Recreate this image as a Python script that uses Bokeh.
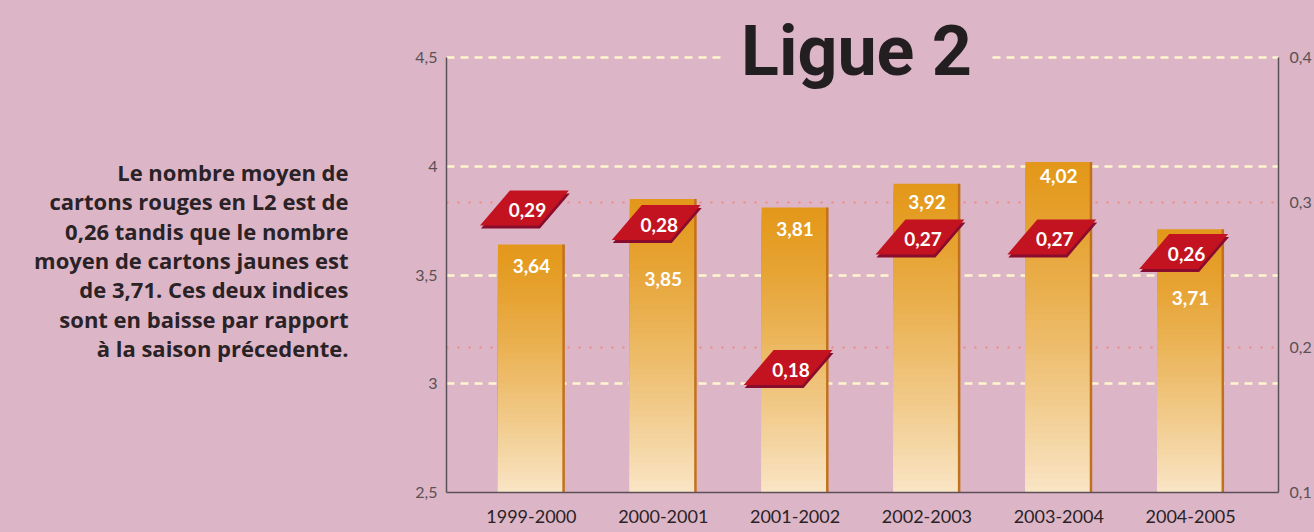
from bokeh.plotting import figure
from bokeh.layouts import row
from bokeh.models import (Range1d, LinearAxis, FixedTicker, Grid,
                          CustomJSTickFormatter)
from bokeh.core.properties import value
from bokeh.core.templates import FILE
from bokeh.embed import file_html
from bokeh.resources import INLINE

# ---------------- data ----------------
seasons = ["1999-2000", "2000-2001", "2001-2002", "2002-2003", "2003-2004", "2004-2005"]
jaunes = [3.64, 3.85, 3.81, 3.92, 4.02, 3.71]      # cartons jaunes (left axis)
rouges = [0.29, 0.28, 0.18, 0.27, 0.27, 0.26]      # cartons rouges (right axis)
left_ticks = [2.5, 3, 3.5, 4, 4.5]
right_ticks = [0.1, 0.2, 0.3, 0.4]
title_text = "Ligue 2"
paragraph = [
    "Le nombre moyen de",
    "cartons rouges en L2 est de",
    "0,26 tandis que le nombre",
    "moyen de cartons jaunes est",
    "de 3,71. Ces deux indices",
    "sont en baisse par rapport",
    "à la saison précedente.",
]

# ---------------- style / layout ----------------
W, H = 1314, 532
LW = 400                                      # width of the text panel
FL, FR, FT, FB = 446, 1279, 57, 492           # chart frame edges (absolute px)
C0, PITCH = 531, 132                          # first bar centre px, spacing px
PINK = "#dcb6c6"
DARK = "#2a2226"
LABEL_DROP = [21, 80, 21, 18, 14, 69]         # px below bar top for value labels
PARA_RIGHT, PARA_Y0, PARA_STEP = 348, 171.5, 29.3

YL0, YL1 = 2.5, 4.5
YR0, YR1 = 0.1, 0.4
pxx = PITCH
pxl = (FB - FT) / (YL1 - YL0)
pxr = (FB - FT) / (YR1 - YR0)

x0 = -(C0 - FL) / PITCH
x1 = (FR - C0) / PITCH

# ---------------- left text panel ----------------
q = figure(width=LW, height=H, output_backend="svg", toolbar_location=None,
           x_range=Range1d(0, LW), y_range=Range1d(FB, 0),
           x_axis_location=None, y_axis_location=None,
           min_border_left=0, min_border_right=0,
           min_border_top=0, min_border_bottom=H - FB)
q.background_fill_color = PINK
q.border_fill_color = PINK
q.outline_line_color = None
q.grid.visible = False
q.text(x=[PARA_RIGHT] * len(paragraph),
       y=[PARA_Y0 + PARA_STEP * k for k in range(len(paragraph))],
       text=paragraph, text_align="right", text_baseline="middle",
       text_font=value("Open Sans"), text_font_style="bold", text_font_size="22px",
       text_color=DARK)

# ---------------- chart ----------------
p = figure(width=W - LW, height=H, output_backend="svg", toolbar_location=None,
           x_range=Range1d(x0, x1), y_range=Range1d(YL0, YL1 + FT / pxl),
           min_border_left=FL - LW, min_border_right=W - FR,
           min_border_top=0, min_border_bottom=H - FB)
p.extra_y_ranges = {"right": Range1d(YR0, YR1 + FT / pxr)}
p.background_fill_color = PINK
p.border_fill_color = PINK
p.outline_line_color = None

fmt = CustomJSTickFormatter(code="return tick.toString().replace('.', ',')")


def style_axis(ax, standoff, size, color):
    ax.axis_line_color = "#5b5058"
    ax.axis_line_width = 1.5
    ax.major_tick_line_color = None
    ax.minor_tick_line_color = None
    ax.major_tick_out = 0
    ax.major_tick_in = 0
    ax.major_label_standoff = standoff
    ax.major_label_text_font = "Lato"
    ax.major_label_text_font_size = size
    ax.major_label_text_color = color


ya = p.yaxis[0]
ya.ticker = FixedTicker(ticks=left_ticks)
ya.formatter = fmt
ya.bounds = (YL0, YL1)
style_axis(ya, 9, "16px", "#5a5055")

ra = LinearAxis(y_range_name="right", ticker=FixedTicker(ticks=right_ticks), formatter=fmt)
ra.bounds = (YR0, YR1)
style_axis(ra, 11, "16px", "#5a5055")
p.add_layout(ra, "right")

xa = p.xaxis[0]
xa.ticker = FixedTicker(ticks=list(range(len(seasons))))
xa.major_label_overrides = {i: s for i, s in enumerate(seasons)}
style_axis(xa, 17, "18px", DARK)

# grids
p.xgrid.visible = False
p.ygrid.ticker = FixedTicker(ticks=[t for t in left_ticks if t > YL0])
p.ygrid.grid_line_color = "#fff5cf"
p.ygrid.grid_line_width = 2.5
p.ygrid.grid_line_dash = "8 6"
rg = Grid(dimension=1, y_range_name="right", ticker=FixedTicker(ticks=[0.2, 0.3]),
          grid_line_color="#ef877f", grid_line_width=2, grid_line_dash="2 9")
p.add_layout(rg)

# ---------------- bars (vertical gradient via stacked slices) ----------------
TOP_C = (227, 152, 26)
BOT_C = (249, 229, 198)
N = 50
L, R, B, T, COL = [], [], [], [], []
for i, v in enumerate(jaunes):
    for k in range(N, 0, -1):
        top = YL0 + (v - YL0) * k / N
        f = (1 - (k - 0.5) / N) ** 1.25      # 0 at top of bar, 1 at bottom
        c = tuple(int(round(TOP_C[j] + (BOT_C[j] - TOP_C[j]) * f)) for j in range(3))
        L.append(i - 33.5 / pxx)
        R.append(i + 32 / pxx)
        B.append(YL0)
        T.append(top)
        COL.append("#%02x%02x%02x" % c)
p.quad(left=L, right=R, bottom=B, top=T, fill_color=COL, line_color=None)

# right edge stripe
p.quad(left=[i + 31 / pxx for i in range(len(jaunes))],
       right=[i + 33.5 / pxx for i in range(len(jaunes))],
       bottom=[YL0] * len(jaunes), top=jaunes,
       fill_color="#c2711a", line_color=None)

# value labels for yellow cards
p.text(x=list(range(len(jaunes))), y=jaunes,
       text=[f"{v:.2f}".replace(".", ",") for v in jaunes],
       y_offset=LABEL_DROP, text_align="center", text_baseline="middle",
       text_font=value("Lato"), text_font_style="bold", text_font_size="19px",
       text_color="white")

# ---------------- red cards (parallelograms) ----------------
HW_OUT, HW_IN, HH = 44.5, 14.5, 17.5
card_cx = [i - 7 / pxx for i in range(len(rouges))]
card_cy = [r + 9 / pxr for r in rouges]


def para(cx, cy, dy_px=0.0):
    xs = [cx - HW_OUT / pxx, cx + HW_IN / pxx, cx + HW_OUT / pxx, cx - HW_IN / pxx]
    ys = [cy - (HH + dy_px) / pxr, cy - (HH + dy_px) / pxr,
          cy + (HH - dy_px) / pxr, cy + (HH - dy_px) / pxr]
    return xs, ys


sh = [para(cx + 1 / pxx, cy, 3) for cx, cy in zip(card_cx, card_cy)]
p.patches(xs=[s[0] for s in sh], ys=[s[1] for s in sh], y_range_name="right",
          fill_color="#8a0c2c", line_color=None)
fr = [para(cx, cy) for cx, cy in zip(card_cx, card_cy)]
p.patches(xs=[s[0] for s in fr], ys=[s[1] for s in fr], y_range_name="right",
          fill_color="#c41320", line_color=None)
p.text(x=[cx + 3 / pxx for cx in card_cx], y=card_cy,
       text=[f"{v:.2f}".replace(".", ",") for v in rouges],
       y_range_name="right", y_offset=2,
       text_align="center", text_baseline="middle",
       text_font=value("Lato"), text_font_style="bold", text_font_size="19px",
       text_color="white")

# ---------------- title (with a pink patch interrupting the top grid line) ----------------
p.quad(left=[(722 - C0) / pxx], right=[(990 - C0) / pxx],
       bottom=[YL1 - 5 / pxl], top=[YL1 + 5 / pxl],
       fill_color=PINK, line_color=None)
p.text(x=[(856.5 - C0) / pxx], y=[YL1 - (50 - FT) / pxl], text=[title_text],
       text_align="center", text_baseline="middle",
       text_font=value("Roboto"), text_font_style="bold",
       text_font_size="70px", text_color="#231f20")

layout = row(q, p, spacing=0)

try:
    tpl = FILE.environment.from_string(
        '{% extends "' + FILE.name + '" %}'
        '{% block postamble %}<style>html, body { background: ' + PINK + '; }</style>{% endblock %}')
    html = file_html(layout, INLINE, template=tpl)
except Exception:
    html = file_html(layout, INLINE)
open("out.html", "w").write(html)
